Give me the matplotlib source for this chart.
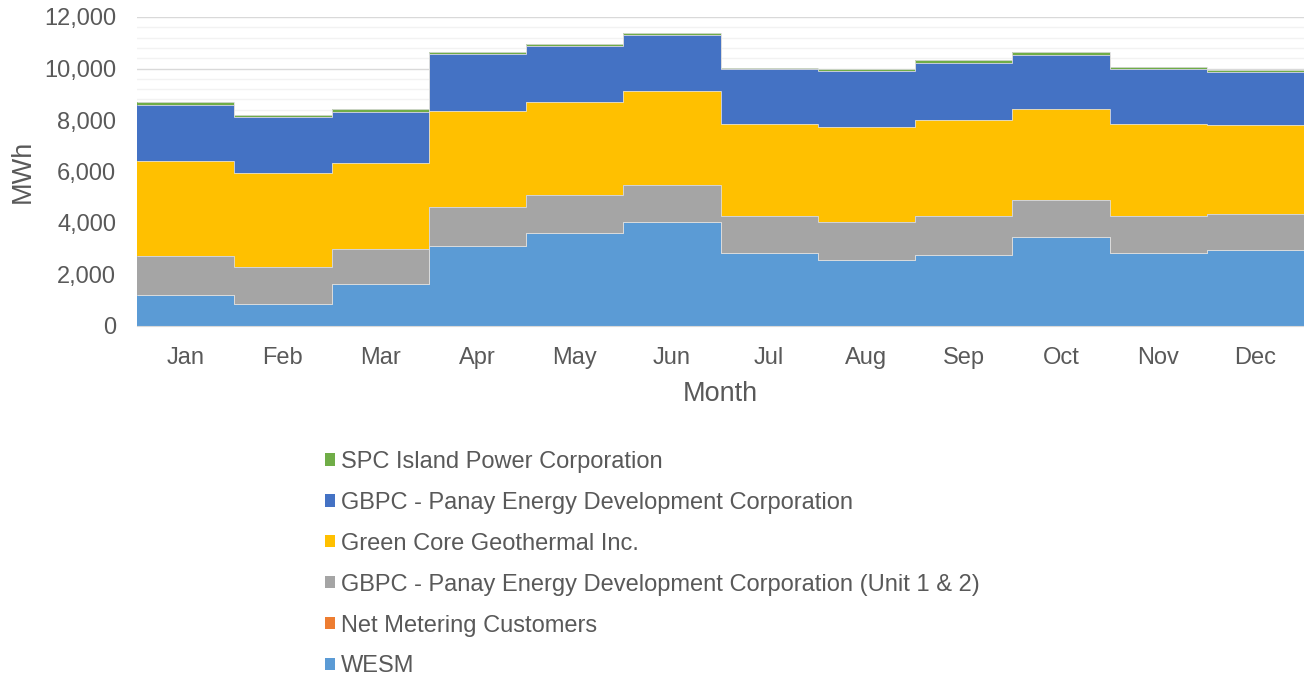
import matplotlib
matplotlib.use("Agg")
import matplotlib.pyplot as plt
from matplotlib.ticker import MultipleLocator, FuncFormatter
import numpy as np

plt.rcParams['font.family'] = ['Liberation Sans', 'DejaVu Sans']

### data (MWh) ###
months = ['Jan', 'Feb', 'Mar', 'Apr', 'May', 'Jun',
          'Jul', 'Aug', 'Sep', 'Oct', 'Nov', 'Dec']
wesm = [1215, 842, 1644, 3119, 3624, 4025, 2847, 2576, 2770, 3443, 2847, 2964]
net_metering = [5, 5, 5, 5, 5, 5, 5, 5, 5, 5, 5, 5]
gbpc_unit12 = [1490, 1436, 1333, 1489, 1450, 1450, 1424, 1462, 1514, 1437, 1437, 1398]
green_core = [3702, 3650, 3352, 3727, 3611, 3650, 3560, 3689, 3702, 3533, 3547, 3443]
gbpc_pedc = [2187, 2188, 1994, 2227, 2175, 2162, 2135, 2187, 2239, 2123, 2135, 2071]
spc = [104, 77, 90, 78, 77, 77, 64, 65, 91, 91, 77, 77]

series = [
    ("WESM", wesm, "#5B9BD5"),
    ("Net Metering Customers", net_metering, "#ED7D31"),
    ("GBPC - Panay Energy Development Corporation (Unit 1 & 2)", gbpc_unit12, "#A5A5A5"),
    ("Green Core Geothermal Inc.", green_core, "#FFC000"),
    ("GBPC - Panay Energy Development Corporation", gbpc_pedc, "#4472C4"),
    ("SPC Island Power Corporation", spc, "#70AD47"),
]

txt = "#595959"
fig = plt.figure(figsize=(13.04, 6.82), dpi=100)
ax = fig.add_axes([137/1304, 1 - 326/682, 1 - 137/1304, (326 - 17)/682])

x = np.arange(len(months))
edges = np.arange(len(months) + 1) - 0.5
bottom = np.zeros(len(months))
handles = []
for name, vals, col in series:
    vals = np.array(vals, dtype=float)
    b = ax.bar(x, vals, width=1.0, bottom=bottom, color=col,
               linewidth=0, label=name, zorder=3)
    handles.append(b)
    bottom += vals
    # thin light outline along the step top of each layer
    ax.stairs(bottom.copy(), edges, baseline=None, color='#dcdcdc',
              linewidth=0.6, zorder=4)

ax.set_xlim(-0.5, len(months) - 0.5)
ax.set_ylim(0, 12000)
ax.yaxis.set_major_locator(MultipleLocator(2000))
ax.yaxis.set_minor_locator(MultipleLocator(400))
ax.yaxis.set_major_formatter(FuncFormatter(lambda v, p: f"{int(v):,}"))
ax.grid(axis='y', which='major', color='#d9d9d9', linewidth=1.0, zorder=0)
ax.grid(axis='y', which='minor', color='#f2f2f2', linewidth=1.0, zorder=0)
ax.set_axisbelow(True)

for s in ['top', 'right', 'left']:
    ax.spines[s].set_visible(False)
ax.spines['bottom'].set_color('#d9d9d9')
ax.spines['bottom'].set_zorder(5)

ax.set_xticks(x)
ax.set_xticklabels(months)
ax.tick_params(axis='both', which='both', length=0, labelsize=17, colors=txt)
ax.tick_params(axis='x', pad=15)
ax.tick_params(axis='y', pad=15)

ax.set_xlabel("Month", fontsize=19.5, color=txt, labelpad=9)
ax.set_ylabel("MWh", fontsize=19.5, color=txt, labelpad=6)

fig.legend(handles[::-1], [s[0] for s in series][::-1],
           loc='upper left', bbox_to_anchor=(325/1304, 1 - 451/682),
           frameon=False, fontsize=17, labelcolor=txt,
           handlelength=0.42, handleheight=0.42, handletextpad=0.25,
           labelspacing=0.8, borderpad=0, borderaxespad=0)

fig.savefig("out.png", dpi=100)
